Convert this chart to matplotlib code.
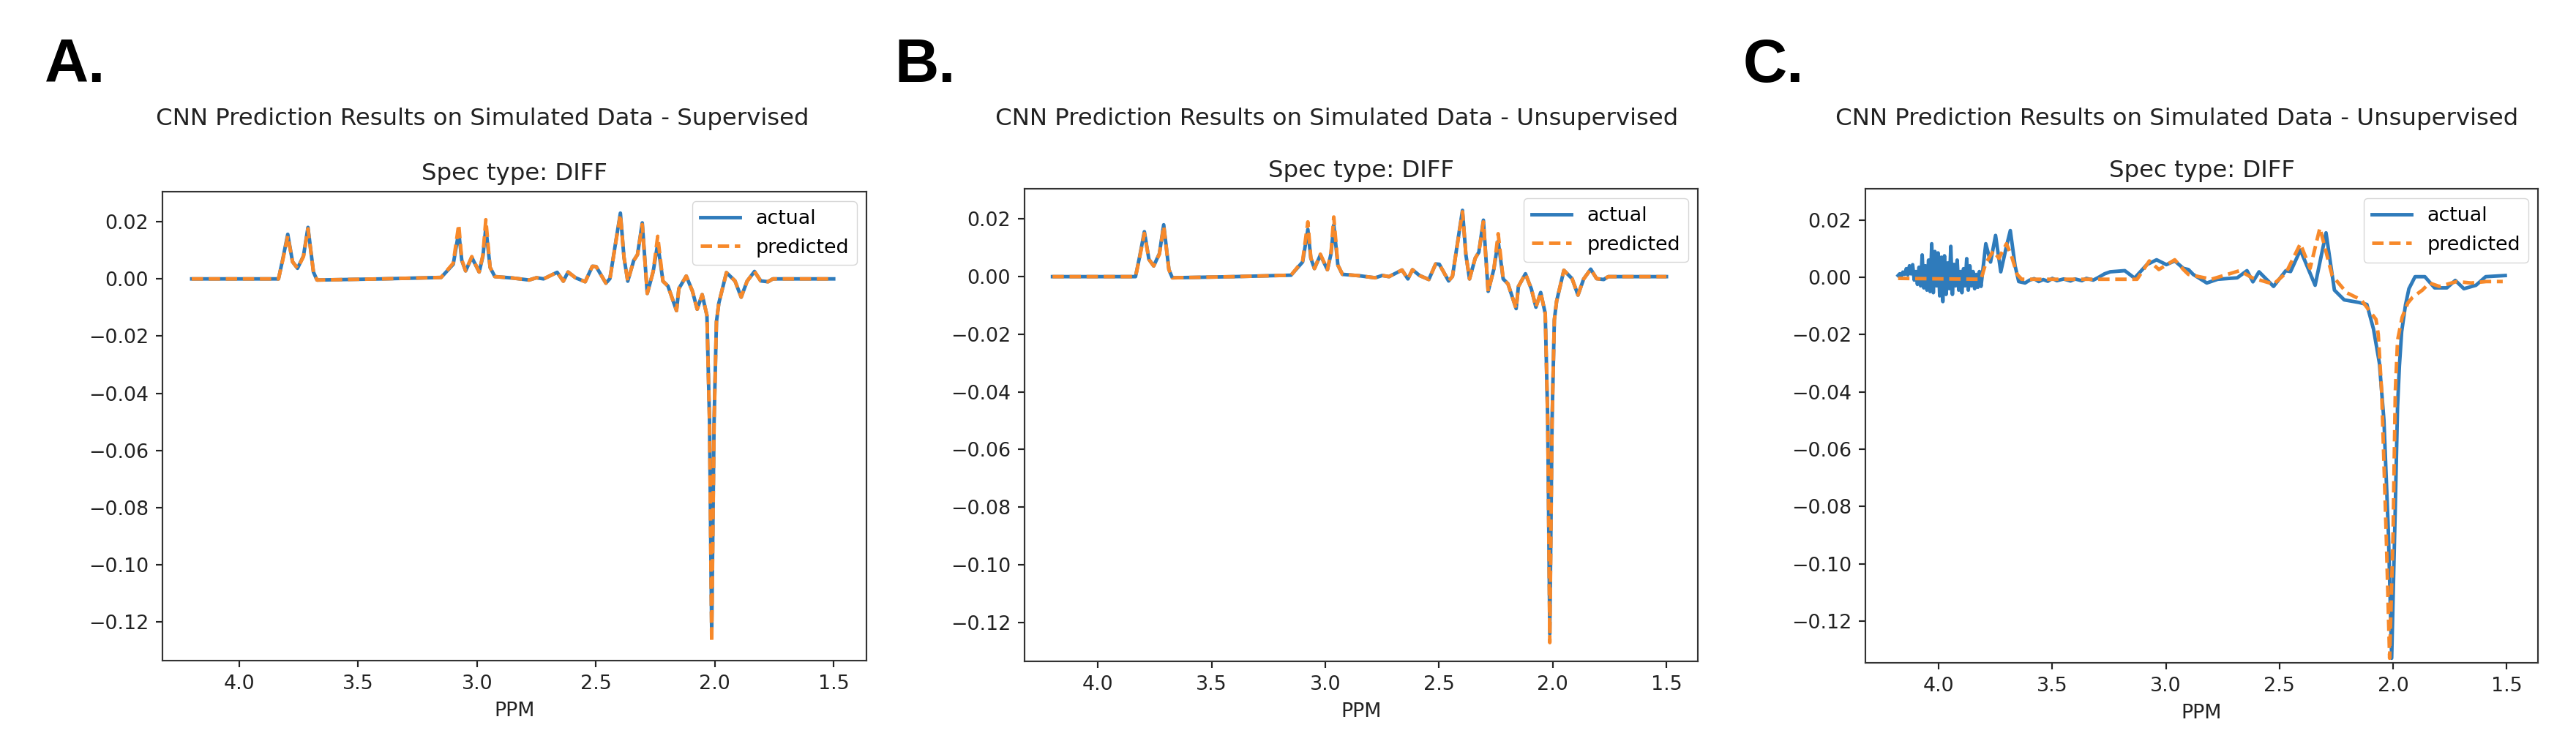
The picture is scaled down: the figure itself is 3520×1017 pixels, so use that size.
import numpy as np
import matplotlib
matplotlib.use("Agg")
import matplotlib.pyplot as plt

# --- data ----------------------------------------------------------------
# panel A / B : simulated spectrum (ppm, actual, predicted)
ppm_sim = [4.20, 3.835, 3.817, 3.796, 3.776, 3.755, 3.730, 3.711, 3.688, 3.673,
           3.40, 3.151, 3.100, 3.077, 3.064, 3.048, 3.022, 2.991, 2.975, 2.963,
           2.945, 2.925, 2.850, 2.781, 2.750, 2.720, 2.663, 2.637, 2.617, 2.586,
           2.545, 2.515, 2.499, 2.458, 2.441, 2.412, 2.397, 2.382, 2.366, 2.341,
           2.325, 2.305, 2.284, 2.259, 2.240, 2.218, 2.197, 2.161, 2.151, 2.120,
           2.094, 2.074, 2.053, 2.033, 2.022, 2.013, 2.003, 1.993, 1.983, 1.951,
           1.915, 1.889, 1.864, 1.833, 1.807, 1.776, 1.756, 1.50]
actual_sim = [0.0, 0.0, 0.0069, 0.0156, 0.0060, 0.0037, 0.0080, 0.0180, 0.0024, -0.0004,
              0.0, 0.0005, 0.0051, 0.0164, 0.0064, 0.0028, 0.0075, 0.0024, 0.0080, 0.0180,
              0.0040, 0.0008, 0.0003, -0.0004, 0.0004, 0.0, 0.0023, -0.0008, 0.0024, 0.0004,
              -0.0010, 0.0044, 0.0043, -0.0015, 0.0001, 0.0153, 0.0230, 0.0076, -0.0008, 0.0064,
              0.0085, 0.0196, -0.0051, 0.0026, 0.0123, -0.0008, -0.0025, -0.0111, -0.0034, 0.0010,
              -0.0043, -0.0106, -0.0055, -0.0128, -0.0500, -0.1240, -0.0500, -0.0150, -0.0085, 0.0022,
              -0.0007, -0.0064, -0.0008, 0.0026, -0.0007, -0.0010, 0.0, 0.0]
pred_sim = [0.0, 0.0, 0.0066, 0.0150, 0.0060, 0.0037, 0.0078, 0.0175, 0.0024, -0.0004,
            0.0, 0.0005, 0.0055, 0.0190, 0.0066, 0.0028, 0.0078, 0.0024, 0.0085, 0.0207,
            0.0040, 0.0008, 0.0003, -0.0004, 0.0004, 0.0, 0.0023, -0.0008, 0.0024, 0.0004,
            -0.0010, 0.0044, 0.0043, -0.0015, 0.0001, 0.0150, 0.0225, 0.0076, -0.0008, 0.0064,
            0.0085, 0.0190, -0.0051, 0.0026, 0.0149, -0.0008, -0.0025, -0.0111, -0.0034, 0.0010,
            -0.0043, -0.0106, -0.0055, -0.0128, -0.0510, -0.1270, -0.0510, -0.0150, -0.0085, 0.0022,
            -0.0007, -0.0064, -0.0008, 0.0026, -0.0007, -0.0010, 0.0, 0.0]

# panel C : actual (noisy at the low-field end)
ppm_c_act = [4.179, 4.172, 4.165, 4.158, 4.150, 4.143, 4.136, 4.129, 4.122, 4.115,
             4.108, 4.101, 4.094, 4.087, 4.080, 4.073, 4.066, 4.059, 4.052, 4.045,
             4.038, 4.031, 4.024, 4.017, 4.010, 4.003, 3.996, 3.989, 3.982, 3.975,
             3.968, 3.961, 3.954, 3.947, 3.940, 3.933, 3.926, 3.919, 3.912, 3.905,
             3.898, 3.891, 3.884, 3.877, 3.870, 3.863, 3.856, 3.849, 3.842, 3.835,
             3.828, 3.821, 3.814, 3.793, 3.772, 3.750, 3.727, 3.702, 3.685, 3.664,
             3.648, 3.620, 3.600, 3.580, 3.560, 3.540, 3.520, 3.500, 3.480, 3.450,
             3.420, 3.400, 3.370, 3.350, 3.320, 3.300, 3.270, 3.245, 3.181, 3.138,
             3.084, 3.041, 2.998, 2.961, 2.923, 2.901, 2.880, 2.820, 2.772, 2.686,
             2.643, 2.617, 2.590, 2.526, 2.472, 2.451, 2.408, 2.343, 2.295, 2.258,
             2.215, 2.150, 2.115, 2.086, 2.060, 2.040, 2.020, 2.006, 1.990, 1.980,
             1.972, 1.962, 1.945, 1.930, 1.903, 1.860, 1.817, 1.763, 1.726, 1.688,
             1.635, 1.592, 1.506]
actual_c = [0.0006, 0.0012, 0.0002, 0.0018, 0.0010, 0.0030, 0.0008, 0.0040, 0.0012, 0.0044,
            -0.0010, 0.0020, -0.0025, 0.0035, -0.0030, 0.0078, -0.0037, 0.0040, -0.0045, 0.0060,
            -0.0050, 0.0117, -0.0054, 0.0090, -0.0030, 0.0085, -0.0065, 0.0070, -0.0085, 0.0075,
            -0.0060, 0.0050, -0.0040, 0.0108, -0.0060, 0.0045, -0.0030, 0.0060, -0.0045, 0.0020,
            -0.0054, 0.0030, -0.0030, 0.0065, -0.0045, 0.0040, -0.0030, 0.0020, -0.0040, 0.0010,
            -0.0035, 0.0020, -0.0032, 0.0117, 0.0053, 0.0146, 0.0019, 0.0108, 0.0163, 0.0040,
            -0.0015, -0.0020, -0.0010, -0.0005, -0.0015, -0.0008, -0.0014, -0.0004, -0.0012, -0.0006,
            -0.0013, -0.0006, -0.0012, -0.0004, -0.0010, -0.0002, 0.0012, 0.0019, 0.0023, -0.0003,
            0.0044, 0.0061, 0.0044, 0.0057, 0.0031, 0.0027, 0.0010, -0.0020, -0.0007, -0.0002,
            0.0023, -0.0016, 0.0019, -0.0032, 0.0023, 0.0020, 0.0095, -0.0028, 0.0155, -0.0045,
            -0.0079, -0.0088, -0.0095, -0.0181, -0.0300, -0.0500, -0.0900, -0.1330, -0.0800, -0.0450,
            -0.0310, -0.0190, -0.0096, -0.0040, 0.0002, 0.0002, -0.0037, -0.0037, -0.0011, -0.0040,
            -0.0028, 0.0002, 0.0006]

# panel C : predicted
ppm_c_pred = [4.179, 3.814, 3.793, 3.760, 3.735, 3.702, 3.680, 3.655, 3.635, 3.400,
              3.127, 3.073, 3.031, 2.961, 2.923, 2.901, 2.800, 2.675, 2.620, 2.526,
              2.472, 2.408, 2.365, 2.322, 2.268, 2.204, 2.140, 2.075, 2.065, 2.050,
              2.030, 2.015, 2.000, 1.990, 1.980, 1.960, 1.935, 1.914, 1.871, 1.840,
              1.796, 1.720, 1.656, 1.590, 1.517]
pred_c = [-0.0004, -0.0007, 0.0049, 0.0092, 0.0066, 0.0117, 0.0075, 0.0010, -0.0007, -0.0007,
          -0.0007, 0.0057, 0.0027, 0.0061, 0.0027, 0.0010, -0.0007, 0.0023, -0.0002, -0.0024,
          0.0014, 0.0117, 0.0031, 0.0172, 0.0006, -0.0054, -0.0079, -0.0147, -0.0200, -0.0400,
          -0.0900, -0.1330, -0.0900, -0.0400, -0.0220, -0.0140, -0.0090, -0.0070, -0.0045, -0.0020,
          -0.0032, -0.0015, -0.0020, -0.0015, -0.0015]

panel_letters = ["A.", "B.", "C."]
suptitles = ["CNN Prediction Results on Simulated Data - Supervised",
             "CNN Prediction Results on Simulated Data - Unsupervised",
             "CNN Prediction Results on Simulated Data - Unsupervised"]

# --- figure -----------------------------------------------------------------
W, H = 3520, 1017
fig = plt.figure(figsize=(W / 100, H / 100), dpi=100)
s = 1.94  # scale of the notebook screenshots
txt = "#222222"
plt.rcParams.update({
    "font.family": "DejaVu Sans",
    "axes.linewidth": 0.8 * s,
    "xtick.major.width": 0.8 * s, "ytick.major.width": 0.8 * s,
    "xtick.major.size": 3.5 * s, "ytick.major.size": 3.5 * s,
    "xtick.major.pad": 3.5 * s, "ytick.major.pad": 3.5 * s,
    "xtick.labelsize": 10 * s, "ytick.labelsize": 10 * s,
    "xtick.color": txt, "ytick.color": txt,
    "axes.edgecolor": "#333333",
})

# axes boxes in pixels: left, top, right, bottom
boxes = [(222, 262, 1184, 903), (1400, 258, 2320, 904), (2549, 258, 3468, 906)]
title_x = [659, 1827, 2975]
letter_x = [61, 1222, 2382]
ylims = [(-0.1335, 0.0305), (-0.1335, 0.0305), (-0.1346, 0.0309)]

series = [(ppm_sim, actual_sim, ppm_sim, pred_sim),
          (ppm_sim, actual_sim, ppm_sim, pred_sim),
          (ppm_c_act, actual_c, ppm_c_pred, pred_c)]

for i in range(3):
    l, t, r, b = boxes[i]
    ax = fig.add_axes([l / W, 1 - b / H, (r - l) / W, (b - t) / H])
    xa, ya, xp, yp = series[i]
    ax.plot(xa, ya, color="#2f7bbb", lw=1.8 * s, label="actual")
    ax.plot(xp, yp, color="#f7892a", lw=1.8 * s, ls=(0, (3.2, 1.6)), label="predicted")
    ax.set_xlim(4.323, 1.362)
    ax.set_ylim(*ylims[i])
    ax.set_xticks([4.0, 3.5, 3.0, 2.5, 2.0, 1.5])
    ax.set_yticks([0.02, 0.0, -0.02, -0.04, -0.06, -0.08, -0.10, -0.12])
    ax.set_yticklabels(["0.02", "0.00", "\u22120.02", "\u22120.04", "\u22120.06",
                        "\u22120.08", "\u22120.10", "\u22120.12"])
    ax.set_xlabel("PPM", fontsize=10 * s, color=txt, labelpad=4 * s)
    ax.set_title("Spec type: DIFF", fontsize=12 * s, color=txt, pad=6 * s)
    ax.legend(loc="upper right", fontsize=10 * s, borderpad=0.4, framealpha=0.8,
              edgecolor="0.8")
    fig.text(title_x[i] / W, 1 - 162 / H, suptitles[i], fontsize=12 * s,
             color=txt, ha="center", va="center")
    fig.text(letter_x[i] / W, 1 - 90 / H, panel_letters[i], fontsize=60,
             fontweight="bold", family=["Liberation Sans Narrow", "Liberation Sans"],
             ha="left", va="center", color="black")

fig.savefig("out.png", dpi=100, facecolor="white")
